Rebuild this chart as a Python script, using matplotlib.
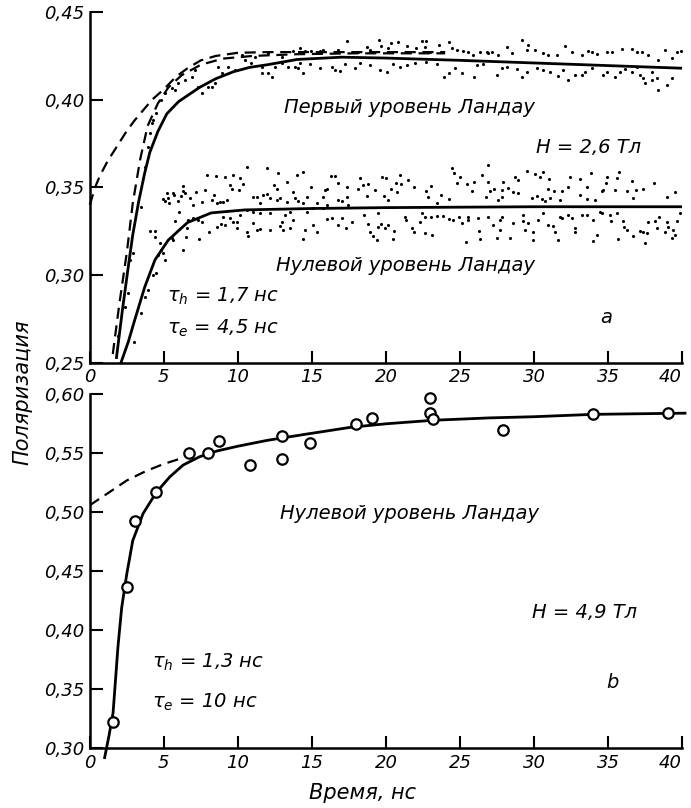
#!/usr/bin/env python
"""
polarization vs time for the zeroth and first Landau levels:
    a) H = 2.6 T (scattered points + fits), b) H = 4.9 T (open circles + fit)
"""

import numpy as np
import matplotlib.pyplot as plt

plt.rcParams['font.family'] = ['DejaVu Sans']
plt.rcParams['mathtext.fontset'] = 'dejavusans'

# ---------------- panel a ----------------
# first Landau level: solid fit
first_fit_x = [1.8, 2.2, 2.6, 2.9, 3.3, 3.7, 4.05, 4.6, 5.2, 6.0, 7.4, 8.5, 9.7,
               10.8, 12.0, 14.0, 17.0, 20.0, 25.0, 30.0, 35.0, 40.0]
first_fit_y = [0.253, 0.280, 0.305, 0.323, 0.342, 0.358, 0.370, 0.382, 0.392,
               0.399, 0.407, 0.412, 0.416, 0.4185, 0.420, 0.423, 0.4243, 0.4238,
               0.4225, 0.421, 0.4195, 0.418]
# first Landau level: steep dashed curve
steep_dash_x = [1.55, 2.0, 2.5, 2.9, 3.4, 3.9, 4.6, 5.3, 6.2, 7.5, 9.0, 11.0,
                14.0, 18.0, 24.0]
steep_dash_y = [0.255, 0.284, 0.313, 0.341, 0.366, 0.385, 0.398, 0.407, 0.414,
                0.420, 0.4235, 0.425, 0.426, 0.4265, 0.4265]
# first Landau level: slow component (extrapolated to t = 0)
slow_dash_x = [0.0, 0.35, 0.7, 1.2, 1.8, 2.4, 3.0, 3.6, 4.2, 5.0, 5.8, 6.6, 7.5,
               8.5, 10.0, 12.0, 15.0, 20.0, 24.0]
slow_dash_y = [0.340, 0.350, 0.357, 0.365, 0.373, 0.381, 0.388, 0.394, 0.400,
               0.406, 0.413, 0.418, 0.4225, 0.425, 0.4268, 0.4272, 0.4272,
               0.4272, 0.4272]
# zeroth Landau level: solid fit
zero_fit_x = [2.1, 2.6, 3.0, 3.7, 4.4, 5.3, 6.6, 8.2, 10.5, 15.0, 20.0, 30.0, 40.0]
zero_fit_y = [0.250, 0.262, 0.2735, 0.293, 0.3087, 0.320, 0.330, 0.3355, 0.3372,
              0.338, 0.3385, 0.339, 0.339]

# measured points (t, P) of the first level
first_dots = [
    (1.91, .2650), (2.36, .2821), (2.59, .2897), (2.70, .3087), (2.93, .3125),
    (3.49, .3391), (3.72, .3619), (3.94, .3733), (4.05, .3809), (4.17, .3866),
    (4.28, .3885), (4.50, .3923), (4.84, .3999), (5.07, .4037), (5.52, .4065),
    (5.74, .4056), (5.97, .4094), (6.42, .4113), (6.87, .4132), (7.09, .4170),
    (7.32, .4075), (7.55, .4037), (8.00, .4075), (8.22, .4075), (8.45, .4094),
    (8.67, .4189), (8.90, .4151), (9.35, .4189), (9.80, .4170), (10.47, .4227),
    (10.92, .4208), (11.60, .4189), (12.05, .4151), (12.50, .4189), (12.95, .4208),
    (13.40, .4189), (10.25, .4255), (11.15, .4246), (12.05, .4265), (12.95, .4246),
    (11.60, .4151), (12.28, .4132),
    (13.74, .4278), (14.19, .4293), (14.52, .4278), (14.97, .4278), (15.54, .4278),
    (15.76, .4284), (16.78, .4284), (17.38, .4335), (17.79, .4270), (18.13, .4274),
    (18.73, .4303), (18.92, .4284), (19.55, .4341), (19.70, .4308), (20.15, .4297),
    (20.31, .4322), (20.83, .4331), (21.39, .4308), (21.51, .4274), (22.02, .4293),
    (22.41, .4335), (22.70, .4335), (22.63, .4303), (22.97, .4274), (23.60, .4312),
    (24.28, .4331), (24.43, .4297), (24.77, .4284), (25.22, .4278), (25.56, .4270),
    (25.90, .4255), (26.35, .4274), (26.80, .4270),
    (13.85, .4189), (14.07, .4183), (14.41, .4151), (14.19, .4208), (14.86, .4202),
    (15.54, .4183), (16.33, .4189), (16.55, .4170), (16.89, .4164), (17.23, .4202),
    (17.90, .4183), (18.24, .4208), (18.92, .4198), (19.59, .4170), (20.04, .4156),
    (20.49, .4202), (20.94, .4189), (21.39, .4198), (21.96, .4208), (22.74, .4217),
    (23.42, .4202), (23.92, .4132), (24.28, .4151), (24.66, .4183), (25.11, .4151),
    (25.94, .4132), (26.12, .4198), (26.57, .4202),
    (26.92, .4265), (27.19, .4274), (27.59, .4255), (28.15, .4303), (28.49, .4265),
    (29.17, .4341), (29.51, .4284), (29.62, .4312), (30.07, .4284), (30.63, .4265),
    (30.97, .4255), (31.53, .4255), (32.10, .4308), (32.55, .4270), (33.22, .4255),
    (33.67, .4278), (33.90, .4274), (34.24, .4259), (34.91, .4274), (35.25, .4274),
    (35.92, .4289), (36.60, .4289), (36.94, .4274), (37.28, .4270), (37.73, .4255),
    (38.85, .4284), (39.64, .4274), (39.93, .4278), (39.30, .4236), (38.40, .4227),
    (27.48, .4141), (27.82, .4183), (28.15, .4189), (28.83, .4175), (29.17, .4132),
    (29.51, .4160), (30.18, .4179), (30.63, .4170), (31.08, .4160), (31.65, .4137),
    (31.98, .4170), (32.32, .4113), (32.77, .4141), (33.22, .4141), (33.45, .4160),
    (33.90, .4179), (34.69, .4141), (34.91, .4160), (35.47, .4132), (35.81, .4160),
    (36.15, .4175), (36.60, .4160), (37.16, .4141), (37.39, .4122), (37.50, .4094),
    (37.95, .4113), (38.29, .4122), (38.96, .4084), (39.30, .4122), (38.40, .4056),
    (36.94, .4189), (37.95, .4160),
]

# measured points (t, P) of the zeroth level
zero_dots = [
    (2.99, .2616), (3.49, .2783), (3.72, .2878), (3.94, .2916), (4.28, .3002),
    (4.62, .3116), (4.95, .3125), (5.07, .3087), (4.44, .3011), (4.05, .3249),
    (4.39, .3220), (4.73, .3182), (4.84, .3144), (5.56, .3211), (6.31, .3144),
    (6.64, .3315), (5.07, .3420), (5.29, .3439), (5.63, .3468), (5.97, .3420),
    (6.19, .3449), (6.42, .3468),
    (4.39, .3250), (5.63, .3200), (6.49, .3216), (7.39, .3205), (8.06, .3248),
    (6.53, .3267), (6.04, .3362), (5.74, .3310), (5.18, .3467), (4.91, .3433),
    (5.36, .3414), (5.68, .3457), (6.26, .3509), (6.31, .3482), (6.76, .3442),
    (6.98, .3400), (7.16, .3476), (7.61, .3419), (7.77, .3486), (7.93, .3571),
    (8.51, .3566), (8.38, .3457), (8.22, .3429), (8.56, .3410), (8.78, .3419),
    (9.01, .3416), (9.28, .3429), (9.12, .3558), (9.46, .3514), (9.57, .3490),
    (9.64, .3571), (10.13, .3552), (10.36, .3520), (10.09, .3486), (10.59, .3615),
    (11.98, .3609), (12.73, .3585), (13.96, .3571), (14.37, .3590), (13.33, .3530),
    (12.43, .3514), (12.61, .3490), (13.69, .3476), (14.64, .3448), (14.95, .3505),
    (15.88, .3486), (11.04, .3448), (11.26, .3448), (11.71, .3457), (11.94, .3463),
    (11.49, .3410), (12.16, .3438), (12.61, .3429), (12.84, .3438), (13.29, .3419),
    (13.85, .3438), (14.08, .3425), (14.41, .3410), (15.32, .3410), (15.77, .3448),
    (15.99, .3400), (15.77, .3381), (15.09, .3381), (14.64, .3362), (13.51, .3362),
    (13.17, .3343), (12.16, .3353), (11.49, .3353), (11.04, .3362), (10.59, .3372),
    (10.13, .3343), (9.91, .3305), (9.46, .3324), (9.01, .3334), (8.83, .3292),
    (9.12, .3286), (8.56, .3273), (6.98, .3324), (7.32, .3315), (7.55, .3305),
    (9.91, .3267), (10.59, .3248), (10.70, .3224), (11.26, .3258), (11.49, .3262),
    (12.16, .3258), (12.95, .3305), (12.84, .3281), (13.06, .3258), (13.51, .3267),
    (13.74, .3315), (14.53, .3258), (15.09, .3286), (15.32, .3248), (14.41, .3205),
    (9.68, .3305), (11.04, .3296),
    (16.29, .3566), (16.56, .3566), (16.74, .3528), (17.34, .3501), (18.24, .3552),
    (18.13, .3490), (18.47, .3514), (18.81, .3518), (18.70, .3452), (19.26, .3486),
    (19.71, .3558), (19.98, .3552), (19.89, .3452), (20.16, .3429), (20.65, .3528),
    (21.01, .3520), (20.95, .3571), (20.72, .3476), (20.34, .3490), (21.51, .3543),
    (21.92, .3501), (22.68, .3482), (22.82, .3448), (23.04, .3509), (23.43, .3410),
    (23.72, .3457), (24.26, .3433), (24.44, .3609), (24.62, .3581), (25.00, .3562),
    (24.78, .3524), (25.45, .3520), (25.79, .3482), (25.97, .3533), (26.47, .3571),
    (26.87, .3628), (26.87, .3533), (27.03, .3482), (26.76, .3444), (27.32, .3490),
    (27.55, .3429), (27.82, .3448), (15.99, .3490), (16.78, .3429), (17.01, .3425),
    (17.34, .3448), (17.46, .3400),
    (15.99, .3319), (16.38, .3324), (16.78, .3286), (17.05, .3324), (17.28, .3267),
    (17.73, .3305), (18.54, .3343), (18.81, .3292), (18.92, .3248), (19.15, .3224),
    (19.37, .3201), (19.44, .3273), (19.66, .3292), (19.93, .3267), (20.16, .3286),
    (19.44, .3357), (20.56, .3254), (20.50, .3205), (21.29, .3334), (21.35, .3315),
    (21.78, .3267), (21.92, .3248), (22.30, .3305), (22.41, .3357), (22.64, .3334),
    (22.64, .3239), (23.04, .3334), (23.13, .3229), (23.43, .3338), (23.88, .3338),
    (24.26, .3319), (24.55, .3315), (24.93, .3334), (25.11, .3296), (25.52, .3334),
    (25.57, .3315), (26.24, .3324), (26.31, .3254), (26.35, .3205), (26.92, .3334),
    (27.25, .3286), (27.48, .3210), (27.70, .3258), (27.70, .3315), (25.39, .3191),
    (27.93, .3533), (27.81, .3486), (28.26, .3495), (28.71, .3558), (28.94, .3543),
    (28.60, .3476), (28.94, .3467), (29.55, .3596), (30.06, .3577), (30.40, .3558),
    (30.58, .3590), (31.03, .3547), (30.97, .3490), (31.35, .3482), (31.87, .3482),
    (29.84, .3438), (30.18, .3452), (30.52, .3433), (30.74, .3425), (31.08, .3438),
    (31.75, .3429), (32.32, .3501), (32.43, .3562), (33.11, .3547), (33.11, .3457),
    (33.60, .3505), (33.83, .3581), (33.56, .3433), (34.12, .3429), (34.57, .3482),
    (34.68, .3486), (34.95, .3562), (34.86, .3524), (35.47, .3486), (35.58, .3552),
    (35.76, .3590), (36.30, .3482), (36.60, .3539), (36.89, .3486), (36.71, .3438),
    (37.34, .3490), (38.11, .3524), (38.96, .3448), (39.52, .3476),
    (27.81, .3334), (28.60, .3300), (28.38, .3210), (29.23, .3343), (29.23, .3311),
    (29.61, .3300), (29.39, .3258), (29.95, .3248), (29.95, .3201), (30.63, .3353),
    (30.29, .3315), (30.97, .3286), (31.30, .3281), (31.42, .3248), (31.64, .3201),
    (31.75, .3334), (31.87, .3324), (32.32, .3343), (32.54, .3324), (32.77, .3267),
    (32.77, .3248), (33.22, .3343), (33.56, .3343), (34.01, .3315), (34.23, .3229),
    (33.96, .3197), (34.46, .3362), (34.57, .3353), (35.13, .3343), (35.58, .3353),
    (35.18, .3311), (36.03, .3311), (36.08, .3273), (36.26, .3258), (35.70, .3205),
    (36.71, .3224), (37.16, .3254), (37.72, .3305), (37.38, .3248), (37.61, .3239),
    (38.17, .3311), (38.29, .3267), (38.47, .3334), (38.85, .3248), (38.96, .3305),
    (39.07, .3277), (39.30, .3210), (39.41, .3258), (39.64, .3311), (39.52, .3229),
    (39.86, .3353), (37.50, .3182),
]

# ---------------- panel b ----------------
circ_x = [1.57, 2.5, 3.04, 4.5, 6.7, 8.0, 8.7, 10.8, 12.95, 12.95, 14.9,
          17.97, 19.05, 22.97, 22.97, 23.2, 27.9, 34.0, 39.05]
circ_y = [0.322, 0.437, 0.493, 0.517, 0.550, 0.550, 0.560, 0.540, 0.565, 0.545,
          0.559, 0.575, 0.580, 0.597, 0.584, 0.579, 0.570, 0.583, 0.584]
b_fit_x = [1.0, 1.3, 1.57, 1.9, 2.15, 2.5, 2.9, 3.6, 4.5, 5.4, 6.3, 7.4, 8.6,
           10.0, 12.0, 14.5, 17.6, 20.0, 23.2, 27.0, 30.0, 34.0, 37.0, 40.2]
b_fit_y = [0.292, 0.311, 0.330, 0.386, 0.419, 0.448, 0.476, 0.499, 0.517, 0.530,
           0.540, 0.547, 0.552, 0.556, 0.561, 0.566, 0.572, 0.575, 0.578, 0.580,
           0.581, 0.583, 0.5835, 0.584]
b_dash_x = [0.0, 1.2, 2.5, 3.8, 5.0, 6.0]
b_dash_y = [0.506, 0.516, 0.527, 0.535, 0.541, 0.545]

xticks = [0, 5, 10, 15, 20, 25, 30, 35, 40]
yticks_a = [0.25, 0.30, 0.35, 0.40, 0.45]
yticks_b = [0.30, 0.35, 0.40, 0.45, 0.50, 0.55, 0.60]

FS = 14      # annotations
TFS = 13     # tick labels
DASH = (5, 3)


def style_axes(ax, yticks):
    ax.set_xlim(0, 40)
    ax.set_ylim(yticks[0], yticks[-1])
    ax.spines['top'].set_visible(False)
    ax.spines['right'].set_visible(False)
    for s in ('left', 'bottom'):
        ax.spines[s].set_linewidth(1.8)
    ax.set_xticks(xticks)
    labels = ax.set_xticklabels([str(t) for t in xticks], style='italic',
                                fontsize=TFS)
    labels[-1].set_ha('right')   # last one pulled in so it fits, as in the print
    ax.set_yticks(yticks)
    ax.set_yticklabels([('%.2f' % t).replace('.', ',') for t in yticks],
                       style='italic', fontsize=TFS)
    ax.tick_params(direction='in', length=9, width=1.5, pad=4)


fig = plt.figure(figsize=(6.91, 8.08), dpi=100)

# panel a
ax1 = fig.add_axes([0.130, 0.551, 0.857, 0.434])
fd = np.array(first_dots)
zd = np.array(zero_dots)
ax1.scatter(fd[:, 0], fd[:, 1], s=5, c='k', lw=0)
ax1.scatter(zd[:, 0], zd[:, 1], s=5, c='k', lw=0)
ax1.plot(first_fit_x, first_fit_y, 'k-', lw=2.0)
ax1.plot(zero_fit_x, zero_fit_y, 'k-', lw=2.0)
ax1.plot(steep_dash_x, steep_dash_y, 'k-', lw=1.6, dashes=DASH)
ax1.plot(slow_dash_x, slow_dash_y, 'k-', lw=1.6, dashes=DASH, clip_on=False)
style_axes(ax1, yticks_a)

ax1.text(21.6, 0.3955, 'Первый уровень Ландау', style='italic', fontsize=FS,
         ha='center', va='center')
ax1.text(33.7, 0.373, 'H = 2,6 Тл', style='italic', fontsize=FS,
         ha='center', va='center')
ax1.text(21.3, 0.3056, 'Нулевой уровень Ландау', style='italic', fontsize=FS,
         ha='center', va='center')
ax1.text(5.2, 0.288, r'$\tau_h$ = 1,7 нс', style='italic', fontsize=FS,
         ha='left', va='center')
ax1.text(5.2, 0.2697, r'$\tau_e$ = 4,5 нс', style='italic', fontsize=FS,
         ha='left', va='center')
ax1.text(34.9, 0.276, 'a', style='italic', fontsize=FS, ha='center', va='center')

# panel b
ax2 = fig.add_axes([0.130, 0.074, 0.857, 0.438])
ax2.plot(b_fit_x, b_fit_y, 'k-', lw=2.0, clip_on=False)
ax2.plot(b_dash_x, b_dash_y, 'k-', lw=1.6, dashes=DASH)
ax2.plot(circ_x, circ_y, 'o', mfc='white', mec='k', mew=1.6, ms=7.5,
         clip_on=False)
style_axes(ax2, yticks_b)

ax2.text(21.6, 0.499, 'Нулевой уровень Ландау', style='italic', fontsize=FS,
         ha='center', va='center')
ax2.text(33.4, 0.415, 'H = 4,9 Тл', style='italic', fontsize=FS,
         ha='center', va='center')
ax2.text(4.2, 0.373, r'$\tau_h$ = 1,3 нс', style='italic', fontsize=FS,
         ha='left', va='center')
ax2.text(4.2, 0.339, r'$\tau_e$ = 10 нс', style='italic', fontsize=FS,
         ha='left', va='center')
ax2.text(35.3, 0.356, 'b', style='italic', fontsize=FS, ha='center', va='center')

fig.text(0.032, 0.515, 'Поляризация', rotation=90, style='italic', fontsize=15,
         ha='center', va='center')
fig.text(0.525, 0.019, 'Время, нс', style='italic', fontsize=15,
         ha='center', va='center')

fig.savefig('out.png', dpi=100)
